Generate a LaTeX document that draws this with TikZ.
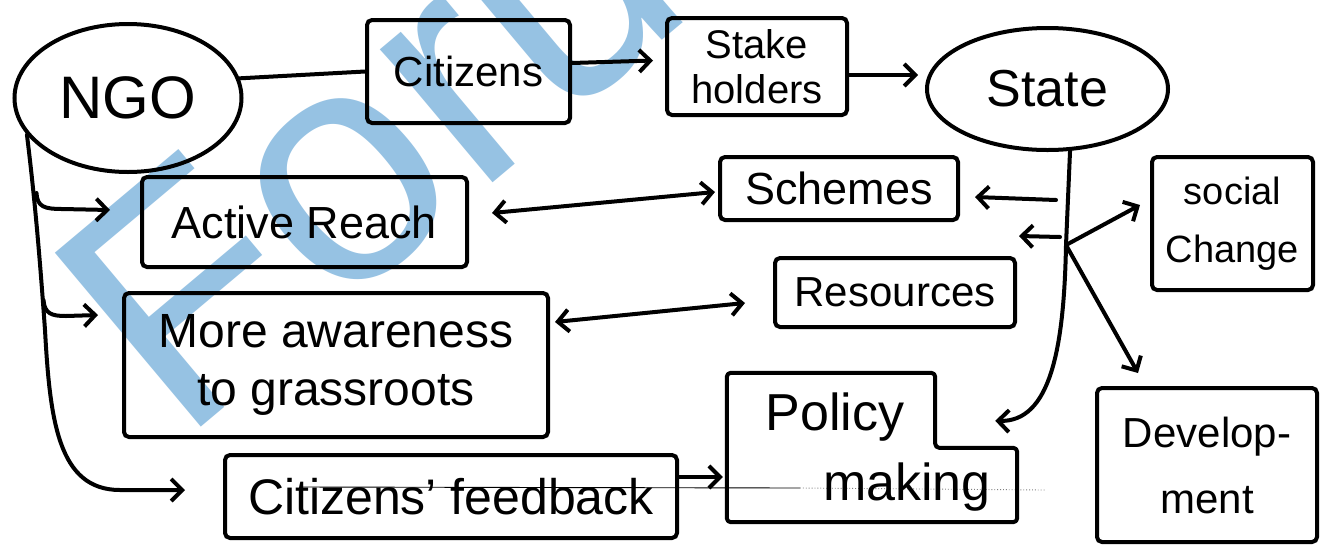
\documentclass[tikz,border=0pt]{standalone}
\usepackage{fontspec}
\setmainfont{Liberation Sans}
\usetikzlibrary{arrows.meta,shapes.geometric}
\definecolor{wmblue}{RGB}{150,194,227}
\begin{document}
\begin{tikzpicture}[x=1pt,y=-1pt,
  ink/.style={line width=4pt, line cap=round, line join=round},
  arr/.style={ink, -{Straight Barb[length=11pt,width=22pt]}},
  darr/.style={ink, {Straight Barb[length=11pt,width=22pt]}-{Straight Barb[length=11pt,width=22pt]}},
  box/.style={draw, line width=4pt, rounded corners=5pt, inner sep=0pt, align=center},
  oval/.style={draw, ellipse, line width=4pt, inner sep=0pt},
  sz/.style 2 args={minimum width=#1pt, minimum height=#2pt},
  fs/.style 2 args={font=\fontsize{#1}{#2}\selectfont}
]
\useasboundingbox (0,0) rectangle (1324,555);
\fill[white] (0,0) rectangle (1324,555);

% watermark behind the drawing
\begin{scope}
  \clip (0,0) rectangle (1324,555);
  \node[rotate=40, anchor=base west, inner sep=0pt, text=wmblue,
        font=\fontsize{330}{330}\selectfont] (wm) at (180,445) {Forum};
\end{scope}

% notebook rule line
\draw[line width=0.9pt] (300,487) -- (800,488);
\draw[line width=0.9pt, gray, dotted] (800,488) -- (1045,490);

% nodes
\node[oval, sz={227}{148}, fs={60}{60}] (ngo) at (128,98) {NGO};
\node[box, sz={203}{103}, fs={42}{42}] (citizens) at (468.5,71.5) {Citizens};
\node[box, sz={180}{97}, fs={40}{45}] (stake) at (757,66.5) {Stake\\holders};
\node[oval, sz={241}{122}, fs={52}{52}] (state) at (1047.5,89) {State};
\node[box, sz={325}{90}, fs={45}{45}] (active) at (304.5,222) {Active Reach};
\node[box, sz={238}{63}, fs={45}{45}] (schemes) at (839,188.5) {Schemes};
\node[box, sz={161}{133}, fs={38}{58}] (social) at (1232.5,223.5) {social\\Change};
\node[box, sz={240}{69}, fs={42}{42}] (resources) at (895,292.5) {Resources};
\node[box, sz={424}{144}, fs={48}{58}] (more) at (336,365) {More awareness\\to grassroots};
\node[box, sz={452}{83}, fs={50}{50}] (feedback) at (451,496.5) {Citizens' feedback};
\node[sz={290}{149}, inner sep=0pt] (policy) at (872,447.5) {};
\node[fs={52}{52}, inner sep=0pt] (policyA) at (835,417) {Policy};
\node[fs={52}{52}, inner sep=0pt] (policyB) at (907,487) {making};
\node[box, sz={220}{154}, fs={42}{66}] (development) at (1207,465) {Develop-\\ment};

% stepped outline of the policy box
\draw[ink, rounded corners=4pt] (policy.north west) -- ([xshift=-82pt]policy.north east)
  -- ([xshift=-82pt,yshift=-75pt]policy.north east) -- ([yshift=-75pt]policy.north east)
  -- (policy.south east) -- (policy.south west) -- cycle;

% junctions
\coordinate (nj1) at (36.5,193);
\coordinate (nj2) at (43.5,300);
\coordinate (sj) at (1066,245);
\coordinate (sj0) at (1056,200);
\coordinate (sj1) at (1060,237);

% top chain
\draw[ink] (ngo.10) -- (citizens.west);
\draw[arr] ([yshift=8.5pt]citizens.east) -- ([xshift=-12pt,yshift=6pt]stake.west);
\draw[arr] ([yshift=-8.5pt]stake.east) -- ([xshift=-7pt,yshift=14pt]state.west);

% NGO trunk and its branches
\draw[arr] (ngo.200) .. controls (35,200) and (40,260) .. (45,330)
  .. controls (50,420) and (58,490) .. (120,490) -- ([xshift=-38pt,yshift=6.5pt]feedback.west);
\draw[arr] (nj1) .. controls (37,207) and (45,209) .. (62,209) -- ([xshift=-30pt,yshift=12pt]active.west);
\draw[arr] (nj2) .. controls (44.5,314) and (52,316) .. (66,316) -- ([xshift=-24pt,yshift=50pt]more.west);

% two-way links
\draw[darr] ([xshift=23pt,yshift=9pt]active.east) -- ([xshift=-3pt,yshift=-3.5pt]schemes.west);
\draw[darr] ([xshift=5pt,yshift=43pt]more.east) -- ([xshift=-28pt,yshift=-10.5pt]resources.west);
\draw[arr] ([yshift=19.5pt]feedback.east) -- ([xshift=-4pt,yshift=-29.5pt]policy.west);

% State trunk and its branches
\draw[ink] (state.290) -- (sj);
\draw[arr] (sj) .. controls (1064,350) and (1050,422) .. ([xshift=-22pt,yshift=-48pt]policy.north east);
\draw[arr] (sj0) -- ([xshift=15pt,yshift=-8.5pt]schemes.east);
\draw[arr] (sj1) -- ([xshift=2pt,yshift=20pt]resources.north east);
\draw[arr] (sj) -- ([xshift=-10pt,yshift=18.5pt]social.west);
\draw[arr] (sj) -- ([xshift=43pt,yshift=13pt]development.north west);
\end{tikzpicture}
\end{document}
